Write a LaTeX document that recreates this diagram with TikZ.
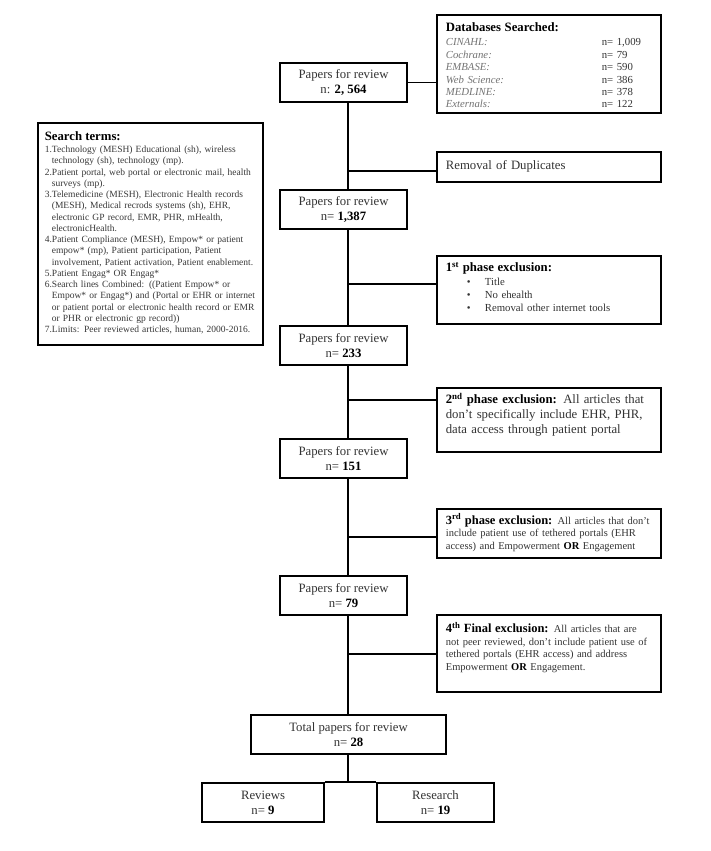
\documentclass[tikz,border=0pt]{standalone}
\usepackage{fontspec}
\setmainfont{Liberation Serif}
\newcommand\bk[1]{\textcolor{black}{\bfseries #1}}
\newcommand\shiftv[2]{\raisebox{#1}[\height][\depth]{#2}}
\begin{document}
\begin{tikzpicture}[x=1pt,y=-1pt,
  box/.style={draw=black, line width=1.7pt, fill=white, inner sep=0pt},
  paper/.style={box, minimum height=39pt, align=center, text=black!80,
    font=\fontsize{12.75}{15}\selectfont},
  excl/.style={box, anchor=north west, inner xsep=9pt, text width=206pt,
    align=left, text=black!80, font=\fontsize{12.75}{15}\selectfont},
  link/.style={line width=1.7pt}]
\useasboundingbox (0,0) rectangle (711,851);
\fill[white] (0,0) rectangle (711,851);

% spine
\coordinate (sp) at (348,0);

% papers boxes
\node[paper, minimum width=127pt] (p1) at (343.5,82.5) {Papers for review\\n: \bk{2, 564}};
\node[paper, minimum width=127pt] (p2) at (343.5,209.5) {Papers for review\\n= \bk{1,387}};
\node[paper, minimum width=127pt] (p3) at (343.5,345.5) {Papers for review\\n= \bk{233}};
\node[paper, minimum width=127pt] (p4) at (343.5,458.5) {Papers for review\\n= \bk{151}};
\node[paper, minimum width=127pt] (p5) at (343.5,595.5) {Papers for review\\n= \bk{79}};
\node[paper, minimum width=195pt] (tot) at (348.5,734.5) {Total papers for review\\n= \bk{28}};
\node[paper, minimum width=122pt] (rev) at (263,802.5) {Reviews\\n= \bk{9}};
\node[paper, minimum width=117pt] (res) at (435.5,802.5) {Research\\n= \bk{19}};

% databases
\node[excl, minimum height=98pt, font=\fontsize{10.75}{12.4}\selectfont] (db) at (436,14) {%
\shiftv{-3.5pt}{\begin{tabular}{@{}p{156pt}@{}l@{}}
\multicolumn{2}{@{}l@{}}{\fontsize{12.75}{14}\selectfont\bk{Databases Searched:}}\\[1.5pt]
\textcolor{black!55}{\itshape CINAHL:} & n= 1,009\\
\textcolor{black!55}{\itshape Cochrane:} & n= 79\\
\textcolor{black!55}{\itshape EMBASE:} & n= 590\\
\textcolor{black!55}{\itshape Web Science:} & n= 386\\
\textcolor{black!55}{\itshape MEDLINE:} & n= 378\\
\textcolor{black!55}{\itshape Externals:} & n= 122
\end{tabular}}};

% search terms
\node[box, anchor=north west, inner xsep=7pt, text width=211pt, minimum height=222pt,
  align=left, text=black!78, font=\fontsize{9.5}{11.25}\selectfont] (st) at (37,122) {%
\begin{tabular}{@{}l@{}}
{\fontsize{12.75}{14}\selectfont\bk{Search terms:}}\\[1pt]
1.Technology (MESH) Educational (sh), wireless\\
\hspace*{7pt}technology (sh), technology (mp).\\
2.Patient portal, web portal or electronic mail, health\\
\hspace*{7pt}surveys (mp).\\
3.Telemedicine (MESH), Electronic Health records\\
\hspace*{7pt}(MESH), Medical recrods systems (sh), EHR,\\
\hspace*{7pt}electronic GP record, EMR, PHR, mHealth,\\
\hspace*{7pt}electronicHealth.\\
4.Patient Compliance (MESH), Empow* or patient\\
\hspace*{7pt}empow* (mp), Patient participation, Patient\\
\hspace*{7pt}involvement, Patient activation, Patient enablement.\\
5.Patient Engag* OR Engag*\\
6.Search lines Combined: ((Patient Empow* or\\
\hspace*{7pt}Empow* or Engag*) and (Portal or EHR or internet\\
\hspace*{7pt}or patient portal or electronic health record or EMR\\
\hspace*{7pt}or PHR or electronic gp record))\\
7.Limits: Peer reviewed articles, human, 2000-2016.
\end{tabular}};

% exclusion boxes
\node[excl, minimum height=30pt] (rem) at (436,151) {Removal of Duplicates};
\node[excl, minimum height=68pt, font=\fontsize{10.75}{13}\selectfont] (e1) at (436,255) {%
\shiftv{1pt}{\begin{tabular}{@{}l@{}}
{\fontsize{12.75}{13}\selectfont\bk{1\textsuperscript{st} phase exclusion:}}\\[1pt]
\hspace*{21pt}\makebox[18pt][l]{\textbullet}Title\\
\hspace*{21pt}\makebox[18pt][l]{\textbullet}No ehealth\\
\hspace*{21pt}\makebox[18pt][l]{\textbullet}Removal other internet tools
\end{tabular}}};
\node[excl, minimum height=64pt] (e2) at (436,387) {%
\shiftv{4pt}{\begin{tabular}{@{}l@{}}
\bk{2\textsuperscript{nd} phase exclusion:} All articles that\\
don’t specifically include EHR, PHR,\\
data access through patient portal
\end{tabular}}};
\node[excl, minimum height=49pt, font=\fontsize{10.5}{12.5}\selectfont] (e3) at (436,508) {%
\begin{tabular}{@{}l@{}}
{\fontsize{12.5}{12.5}\selectfont\bk{3\textsuperscript{rd} phase exclusion:}} All articles that don’t\\
include patient use of tethered portals (EHR\\
access) and Empowerment \bk{OR} Engagement
\end{tabular}};
\node[excl, minimum height=77pt, font=\fontsize{10.5}{12.6}\selectfont] (e4) at (436,614) {%
\shiftv{5pt}{\begin{tabular}{@{}l@{}}
{\fontsize{12.5}{12.6}\selectfont\bk{4\textsuperscript{th} Final exclusion:}} All articles that are\\
not peer reviewed, don’t include patient use of\\
tethered portals (EHR access) and address\\
Empowerment \bk{OR} Engagement.
\end{tabular}}};

% spine segments
\draw[link] (p1.south -| sp) -- (p2.north -| sp);
\draw[link] (p2.south -| sp) -- (p3.north -| sp);
\draw[link] (p3.south -| sp) -- (p4.north -| sp);
\draw[link] (p4.south -| sp) -- (p5.north -| sp);
\draw[link] (p5.south -| sp) -- (tot.north -| sp);

% side connectors
\draw[link] (p1.east) -- (p1.east -| db.west);
\coordinate (jr) at (348,171);
\coordinate (j1) at (348,284);
\coordinate (j2) at (348,400);
\coordinate (j3) at (348,537);
\coordinate (j4) at (348,654);
\draw[link] (jr) -- (jr -| rem.west);
\draw[link] (j1) -- (j1 -| e1.west);
\draw[link] (j2) -- (j2 -| e2.west);
\draw[link] (j3) -- (j3 -| e3.west);
\draw[link] (j4) -- (j4 -| e4.west);

% bottom split
\coordinate (jb) at (348,783);
\draw[link] (tot.south -| sp) -- (jb);
\draw[link] (rev.north east) -- (res.north west);
\end{tikzpicture}
\end{document}
